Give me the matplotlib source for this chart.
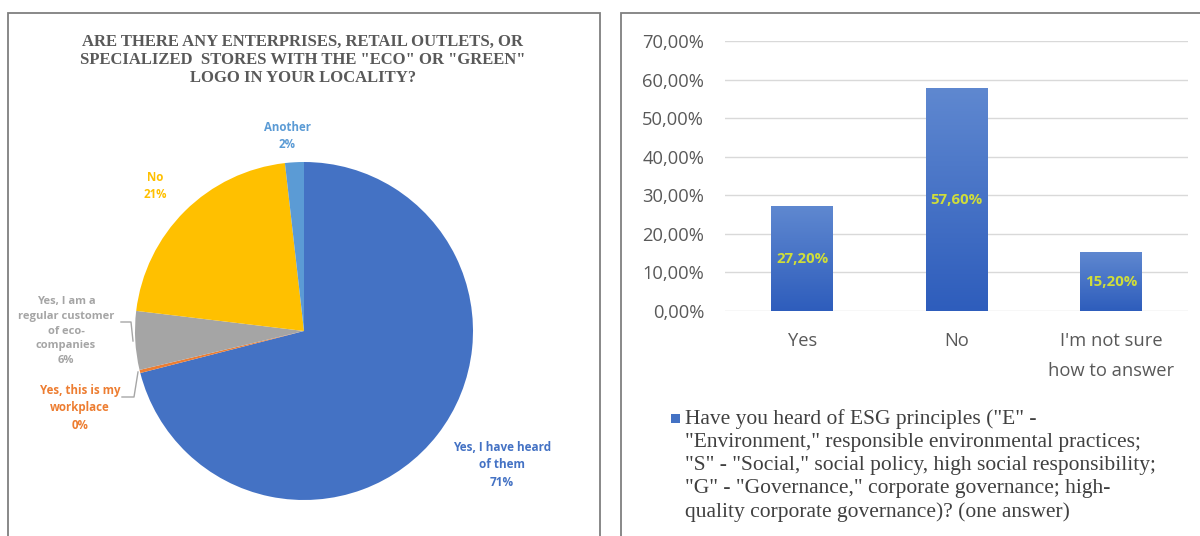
import matplotlib
matplotlib.use("Agg")
import matplotlib.pyplot as plt
import numpy as np
from matplotlib.patches import Rectangle
from matplotlib.lines import Line2D
from matplotlib.colors import LinearSegmentedColormap

# ---------------- data ----------------
pie_title = 'ARE THERE ANY ENTERPRISES, RETAIL OUTLETS, OR\nSPECIALIZED  STORES WITH THE "ECO" OR "GREEN"\nLOGO IN YOUR LOCALITY?'
pie_labels = ["Yes, I have heard\nof them", "Yes, this is my\nworkplace",
              "Yes, I am a\nregular customer\nof eco-\ncompanies", "No", "Another"]
pie_values = [71.0, 0.3, 5.6, 21.3, 1.8]
pie_colors = ["#4472C4", "#ED7D31", "#A5A5A5", "#FFC000", "#5B9BD5"]

bar_categories = ["Yes", "No", "I'm not sure\nhow to answer"]
bar_values = [0.272, 0.576, 0.152]
bar_series = ('Have you heard of ESG principles ("E" -\n"Environment," responsible environmental practices;\n'
              '"S" - "Social," social policy, high social responsibility;\n'
              '"G" - "Governance," corporate governance; high-\nquality corporate governance)? (one answer)')
y_ticks = [0.0, 0.1, 0.2, 0.3, 0.4, 0.5, 0.6, 0.7]

W, H = 1200, 536
fig = plt.figure(figsize=(W / 100, H / 100), dpi=100)
fig.patch.set_facecolor("white")

def fbox(x0, y0, x1, y1):
    # pixel box (top-left origin) -> figure rect
    return [x0 / W, 1 - y1 / H, (x1 - x0) / W, (y1 - y0) / H]

# panel borders
for (x0, y0, x1, y1) in [(8, 13, 600, 545), (621, 13, 1210, 545)]:
    fig.patches.append(Rectangle((x0 / W, 1 - y1 / H), (x1 - x0) / W, (y1 - y0) / H,
                                 transform=fig.transFigure, fill=False,
                                 edgecolor="#7F7F7F", linewidth=1.3, zorder=0))

# ---------------- pie ----------------
cx, cy, r = 304, 331, 169
axp = fig.add_axes(fbox(cx - r, cy - r, cx + r, cy + r))
wedges, _ = axp.pie(pie_values, colors=pie_colors, startangle=90, counterclock=False,
                    radius=1.0, wedgeprops=dict(linewidth=0))
axp.set_xlim(-1, 1)
axp.set_ylim(-1, 1)
axp.set_aspect("equal")
axp.axis("off")

fig.text(303 / W, 1 - 60 / H, pie_title, ha="center", va="center",
         family="Liberation Serif", fontweight="bold", fontsize=12,
         color="#595959", linespacing=1.2)

def pdat(px, py):
    return ((px - cx) / r, (cy - py) / r)

label_pos = [(502, 465), (80, 408), (66, 331), (155, 186), (287, 136)]
label_sizes = [8.5, 8.3, 8.0, 8.3, 8.3]
for lab, val, col, (px, py), fs in zip(pie_labels, pie_values, pie_colors, label_pos, label_sizes):
    x, y = pdat(px, py)
    axp.text(x, y, f"{lab}\n{round(val):d}%", ha="center", va="center",
             fontsize=fs, fontweight="bold", color=col, family="Open Sans",
             linespacing=1.45, clip_on=False)

# leader lines
for pts in [[(121, 322), (131, 322), (133, 341)], [(122, 397), (134, 397), (138, 372)]]:
    xs, ys = zip(*[pdat(*p) for p in pts])
    axp.add_line(Line2D(xs, ys, color="#A6A6A6", lw=1.0, clip_on=False))

# ---------------- bar chart ----------------
axb = fig.add_axes(fbox(725, 41, 1188, 311))
x = np.arange(len(bar_categories))
bars = axb.bar(x, bar_values, width=0.4, color="#4472C4", zorder=2)
cmap = LinearSegmentedColormap.from_list("g", ["#2E5DBC", "#5F88D0"])
grad = np.linspace(0, 1, 256).reshape(-1, 1)
for p in bars:
    axb.imshow(grad, extent=(p.get_x(), p.get_x() + p.get_width(), 0, p.get_height()),
               origin="lower", aspect="auto", cmap=cmap, zorder=2.5)
axb.set_xlim(-0.5, len(bar_categories) - 0.5)
axb.set_ylim(0, 0.70)
axb.set_aspect("auto")
axb.bar_label(bars, labels=[f"{v*100:.2f}%".replace(".", ",") for v in bar_values],
              label_type="center", color="#CFDD3A", fontsize=10.8, fontweight="bold",
              family="Open Sans", zorder=4)
for t in axb.texts:
    t.set_zorder(5)

axb.set_yticks(y_ticks)
axb.set_yticklabels([f"{v*100:.2f}%".replace(".", ",") for v in y_ticks])
axb.set_xticks(x)
axb.set_xticklabels(bar_categories, linespacing=1.85)
axb.tick_params(axis="both", length=0, labelsize=13.2, labelcolor="#595959")
axb.tick_params(axis="y", pad=15)
axb.tick_params(axis="x", pad=15)
for t in axb.get_xticklabels() + axb.get_yticklabels():
    t.set_family("Open Sans")
axb.grid(axis="y", color="#D9D9D9", linewidth=1.0, zorder=0)
axb.set_axisbelow(True)
for s in axb.spines.values():
    s.set_visible(False)

# legend
fig.patches.append(Rectangle((671 / W, 1 - 423 / H), 9 / W, 9 / H, transform=fig.transFigure,
                             facecolor="#4472C4", edgecolor="none"))
fig.text(685 / W, 1 - 409 / H, bar_series, ha="left", va="top", family="Liberation Serif",
         fontsize=15.5, color="#404040", linespacing=1.29)

fig.savefig("out.png", dpi=100, facecolor="white")
